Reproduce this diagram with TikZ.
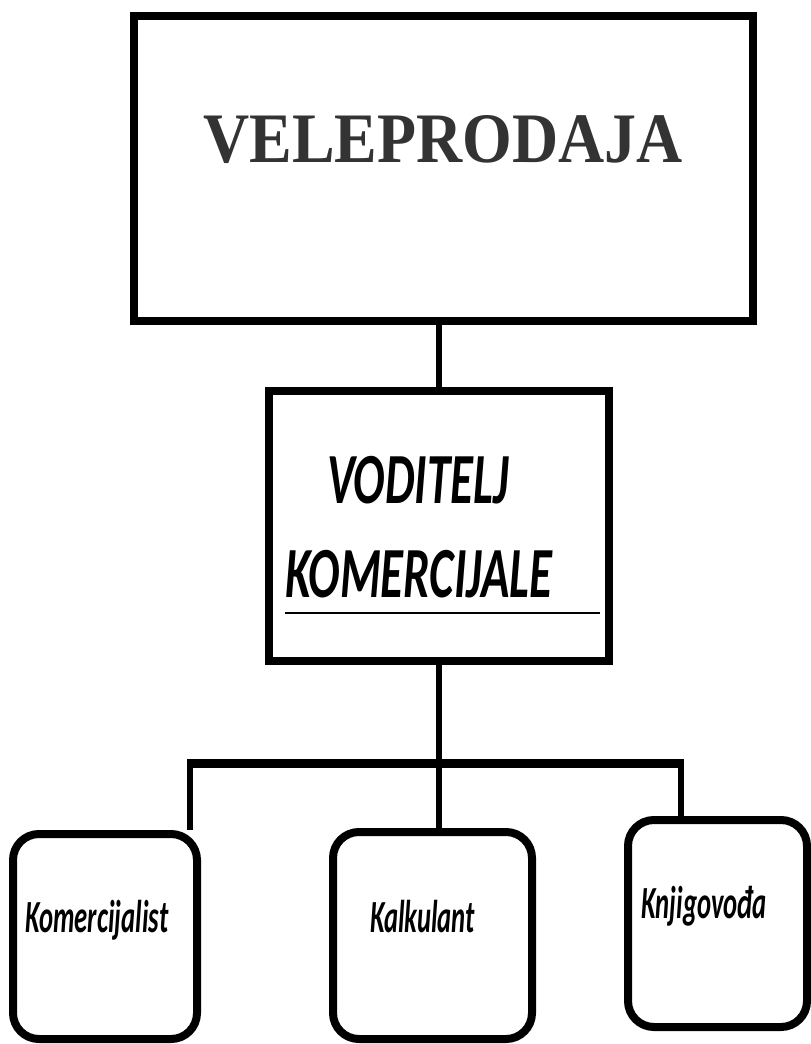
\documentclass[tikz,border=0pt]{standalone}
\usepackage{fontspec}
\setmainfont{Liberation Serif}
\newfontfamily\titlefont[FakeStretch=0.9]{Liberation Serif}
\newfontfamily\calfont[FakeStretch=0.65]{Carlito}
\newfontfamily\calfontnarrow[FakeStretch=0.58]{Carlito}
\definecolor{titlegray}{HTML}{333333}
\tikzstyle{topbox} = [
    draw,
    line width=8pt,
    minimum width=619pt,
    minimum height=305pt,
    inner sep=0pt
    ]
\tikzstyle{midbox} = [
    draw,
    line width=8pt,
    minimum width=340pt,
    minimum height=270pt,
    inner sep=0pt
    ]
\tikzstyle{staffbox} = [
    draw,
    line width=8pt,
    rounded corners=26pt,
    inner sep=0pt
    ]
\tikzstyle{toptext} = [
    text=titlegray,
    font=\titlefont\fontsize{71}{76}\selectfont\bfseries,
    anchor=base,
    inner sep=0pt
    ]
\tikzstyle{midtext} = [
    font=\calfont\fontsize{72}{80}\selectfont\bfseries\itshape,
    anchor=base west,
    inner sep=0pt
    ]
\tikzstyle{stafftext} = [
    font=\calfontnarrow\fontsize{46}{50}\selectfont\bfseries\itshape,
    anchor=base west,
    inner sep=0pt
    ]
\tikzstyle{conn} = [line width=6pt]
\tikzstyle{bus} = [line width=9pt]

\begin{document}
\begin{tikzpicture}[x=1pt,y=-1pt]
\useasboundingbox (0,0) rectangle (811,1044);

\node[topbox] (vp) at (443.5,168.5) {};
\node[toptext] (vptext) at (443,162) {VELEPRODAJA};

\node[midbox] (vk) at (439,526) {};
\node[midtext] (vktop) at (327,503) {VODITELJ};
\node[midtext] (vkbot) at (285,597) {KOMERCIJALE};
\draw[line width=2.5pt] (vkbot.south west |- 0,613) coordinate (ulL) -- (ulL -| 600,0);

\node[staffbox, minimum width=184pt, minimum height=205pt] (kom) at (105,936.5) {};
\node[staffbox, minimum width=199pt, minimum height=207pt] (kal) at (432.5,935.5) {};
\node[staffbox, minimum width=179pt, minimum height=207pt] (knj) at (717.5,923.5) {};
\node[stafftext] (komt) at (25,932) {Komercijalist};
\node[stafftext] (kalt) at (370,932) {Kalkulant};
\node[stafftext] (knjt) at (641,918) {Knjigovođa};

\coordinate (busL) at (189.5,763);
\coordinate (busR) at (680.5,763);

\draw[conn] (vk.north) -- (vk.north |- vp.south);
\draw[conn] (vk.south) -- (vk.south |- kal.north);
\draw[bus] ([xshift=-2.5pt]busL) -- ([xshift=3pt]busR);
\draw[conn] (busL) -- (busL |- kom.north);
\draw[conn] (busR) -- (busR |- knj.north);
\end{tikzpicture}
\end{document}
